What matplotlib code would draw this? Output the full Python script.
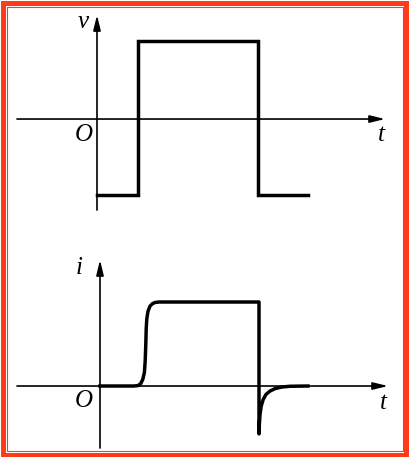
import matplotlib.pyplot as plt
from matplotlib.patches import Rectangle

# square-wave voltage v(t)
v_t = [0.0, 1.025, 1.025, 4.025, 4.025, 5.275]
v_val = [-0.97, -0.97, 1.0, 1.0, -0.97, -0.97]

# current response i(t)
i_t = [0.0, 0.85, 0.95, 1.02, 1.07, 1.11, 1.13, 1.145, 1.155, 1.17, 1.2,
       1.25, 1.31, 1.38, 1.48, 3.975, 3.975, 3.985, 4.0, 4.03, 4.08, 4.15,
       4.25, 4.38, 4.55, 4.75, 5.2]
i_val = [0.0, 0.0, 0.005, 0.03, 0.08, 0.16, 0.3, 0.5, 0.68, 0.8, 0.89,
         0.95, 0.98, 0.995, 1.0, 1.0, -0.57, -0.45, -0.34, -0.24, -0.16,
         -0.1, -0.06, -0.03, -0.012, -0.003, 0.0]

W, H = 409, 457
fig = plt.figure(figsize=(W / 100, H / 100), dpi=100)
fig.patch.set_facecolor('white')

font = dict(family='Liberation Serif', style='italic', color='k')
arrow = dict(arrowstyle='-|>,head_length=0.9,head_width=0.22', lw=1.2,
             color='k', shrinkA=0, shrinkB=0)

# top panel
ax1 = fig.add_axes([0, 1 - 228 / H, 1, 228 / H])
ax1.set_xlim(-2.425, 7.8)
ax1.set_ylim(-1.397, 1.526)
ax1.axis('off')
ax1.annotate('', xy=(7.2, 0), xytext=(-2.0, 0), arrowprops=arrow)
ax1.annotate('', xy=(0, 1.333), xytext=(0, -1.167), arrowprops=arrow)
ax1.plot(v_t, v_val, color='k', lw=2.5, solid_joinstyle='miter')
ax1.text(-0.35, 1.24, 'v', fontsize=18, ha='center', va='center', **font)
ax1.text(7.1, -0.2, 't', fontsize=18, ha='center', va='center', **font)
ax1.text(-0.33, -0.2, 'O', fontsize=18, ha='center', va='center', **font)

# bottom panel
ax2 = fig.add_axes([0, 0, 1, 229 / H])
ax2.set_xlim(-2.5, 7.725)
ax2.set_ylim(-0.845, 1.881)
ax2.axis('off')
ax2.annotate('', xy=(7.2, 0), xytext=(-2.075, 0), arrowprops=arrow)
ax2.annotate('', xy=(0, 1.5), xytext=(0, -0.738), arrowprops=arrow)
ax2.plot(i_t, i_val, color='k', lw=2.5, solid_joinstyle='round')
ax2.text(-0.52, 1.40, 'i', fontsize=18, ha='center', va='center', **font)
ax2.text(7.075, -0.2, 't', fontsize=18, ha='center', va='center', **font)
ax2.text(-0.4, -0.18, 'O', fontsize=18, ha='center', va='center', **font)

# red frame
red = '#ff3b1a'
fig.add_artist(Rectangle((2.5 / W, 2.5 / H), 1 - 5.0 / W, 1 - 5.0 / H,
                         transform=fig.transFigure, fill=False,
                         edgecolor=red, lw=3.6))
fig.add_artist(Rectangle((6.5 / W, 6.5 / H), 1 - 13.0 / W, 1 - 13.0 / H,
                         transform=fig.transFigure, fill=False,
                         edgecolor=red, lw=0.8))

fig.savefig('out.png', dpi=100)
